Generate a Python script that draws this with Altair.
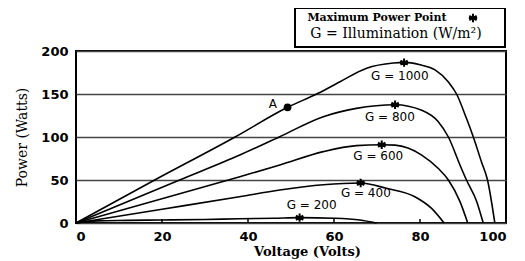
import altair as alt
import pandas as pd

# ---- data ----
series_names = ["G = 1000", "G = 800", "G = 600", "G = 400", "G = 200"]

v_1000 = [0, 18.3, 37, 49.2, 56.3, 61.3, 67.6, 73.8, 76.3, 80, 83.5, 86.6, 88.5, 90.8, 92.4, 94.3, 95.7, 97.4]
p_1000 = [0, 50, 100, 134.5, 150.8, 164, 180, 186, 186.8, 184, 178, 164, 150, 121.7, 100, 71, 50, 0]

v_800 = [0, 24.1, 38.1, 47.4, 57.5, 65.2, 74.2, 80.4, 84.2, 86.6, 89.3, 90.8, 93.2, 94.7]
p_800 = [0, 50, 79, 100.4, 123.6, 133.3, 137.5, 131, 118, 100, 67.4, 50, 24.8, 0]

v_600 = [0, 38.1, 47.4, 57.5, 65.2, 71.1, 74.2, 80.4, 84.2, 86.6, 89.3, 91.1]
p_600 = [0, 53.9, 67.4, 83, 90, 91, 90.5, 79, 63.6, 50, 24.8, 0]

v_400 = [0, 20, 38, 47.4, 57.5, 66.2, 72.2, 78.8, 82.7, 85.6]
p_400 = [0, 16, 30.5, 38.4, 44.5, 46.5, 40.3, 30.6, 17, 0]

v_200 = [0, 5, 12, 20, 30, 38, 46, 52, 60, 66, 69.9]
p_200 = [0, 2.5, 3, 3.5, 4, 5, 5.5, 6.2, 5.5, 3.5, 0]

mpp_v = [76.3, 74.2, 71.1, 66.2, 52]
mpp_p = [186.5, 137.5, 91, 46.5, 6.2]

label_v = [75.3, 73, 70.3, 67.4, 54.8]
label_p = [171, 123.6, 78, 35.3, 21]

point_a_v = [49.2]
point_a_p = [134.5]
point_a_label = ["A"]
point_a_label_v = [45.8]
point_a_label_p = [138]

x_ticks = [0, 20, 40, 60, 80, 100]
x_inner_ticks = [20, 40, 60, 80]
y_ticks = [0, 50, 100, 150, 200]

legend_line1 = "Maximum Power Point"
legend_line2 = "G = Illumination (W/m\u00b2)"
x_title = "Voltage (Volts)"
y_title = "Power (Watts)"

# ---- build tables ----
rows = []
for name, vs, ps in zip(series_names,
                        [v_1000, v_800, v_600, v_400, v_200],
                        [p_1000, p_800, p_600, p_400, p_200]):
    for i, (v, p) in enumerate(zip(vs, ps)):
        rows.append({"series": name, "V": v, "P": p, "i": i})
curves = pd.DataFrame(rows)
mpp = pd.DataFrame({"V": mpp_v, "P": mpp_p, "series": series_names})
labels = pd.DataFrame({"V": label_v, "P": label_p, "text": series_names})
pa = pd.DataFrame({"V": point_a_v, "P": point_a_p})
pa_lab = pd.DataFrame({"V": point_a_label_v, "P": point_a_label_p, "text": point_a_label})
ticks = pd.DataFrame({"V": x_inner_ticks})
one = pd.DataFrame({"a": [1]})

W, H = 430, 172
SANS = "DejaVu Sans"
SERIF = "DejaVu Serif"
STAR = "M0,-1L0,1M-0.87,-0.5L0.87,0.5M-0.87,0.5L0.87,-0.5M-1,0L1,0"

xs = alt.Scale(domain=[0, 100], nice=False, zero=False)
ys = alt.Scale(domain=[0, 200], nice=False, zero=False)

x_axis = alt.Axis(values=x_ticks, title=x_title, grid=False, ticks=False, domain=False,
                  labelFont=SANS, labelFontSize=13, labelFontWeight="bold", labelColor="black",
                  labelPadding=7, titleFont=SERIF, titleFontSize=13, titleFontWeight="bold",
                  titleColor="black", titleX=231, titleY=32, titleBaseline="alphabetic",
                  titleAnchor="middle", titleAlign="center")
y_axis = alt.Axis(values=y_ticks, title=y_title, grid=True, gridColor="#444", gridWidth=1.5,
                  ticks=False, domain=False, labelFont=SANS, labelFontSize=13,
                  labelFontWeight="bold", labelColor="black", labelPadding=8,
                  titleFont=SERIF, titleFontSize=14, titleFontWeight="normal", titleColor="black",
                  titleX=-54, titleY=H / 2, titleBaseline="middle", titleAngle=-90,
                  titleAlign="center")

lines = alt.Chart(curves).mark_line(interpolate="monotone", color="black", strokeWidth=1.6).encode(
    x=alt.X("V:Q", scale=xs, axis=x_axis),
    y=alt.Y("P:Q", scale=ys, axis=y_axis),
    detail="series:N",
    order="i:Q",
)

stars = alt.Chart(mpp).mark_point(shape=STAR, filled=False, color="black", strokeWidth=2,
                                  size=70, opacity=1).encode(
    x=alt.X("V:Q", scale=xs), y=alt.Y("P:Q", scale=ys))

point_a = alt.Chart(pa).mark_point(shape="circle", filled=True, color="black", size=60,
                                   opacity=1).encode(
    x=alt.X("V:Q", scale=xs), y=alt.Y("P:Q", scale=ys))

curve_labels = alt.Chart(labels).mark_text(font=SANS, fontSize=12, color="black",
                                           align="center", baseline="middle").encode(
    x=alt.X("V:Q", scale=xs), y=alt.Y("P:Q", scale=ys), text="text:N")

a_label = alt.Chart(pa_lab).mark_text(font=SANS, fontSize=12, color="black",
                                      align="center", baseline="middle").encode(
    x=alt.X("V:Q", scale=xs), y=alt.Y("P:Q", scale=ys), text="text:N")

inner_ticks = alt.Chart(ticks).mark_rule(color="black", strokeWidth=1.5).encode(
    x=alt.X("V:Q", scale=xs), y=alt.value(H), y2=alt.value(H - 4))

legend_box = alt.Chart(one).mark_rect(fill="white", stroke="black", strokeWidth=2).encode(
    x=alt.value(219), x2=alt.value(429), y=alt.value(-43), y2=alt.value(-4))

legend_t1 = alt.Chart(one).mark_text(text=legend_line1, font=SERIF, fontSize=11,
                                     fontWeight="bold", color="black", align="center",
                                     baseline="middle").encode(
    x=alt.value(301), y=alt.value(-33))

legend_star = alt.Chart(one).mark_point(shape=STAR, filled=False, color="black",
                                        strokeWidth=2, size=70, opacity=1).encode(
    x=alt.value(397), y=alt.value(-33))

legend_t2 = alt.Chart(one).mark_text(text=legend_line2, font=SERIF, fontSize=14,
                                     color="black", align="center",
                                     baseline="middle").encode(
    x=alt.value(320), y=alt.value(-17))

chart = alt.layer(
    lines, inner_ticks, stars, point_a, curve_labels, a_label,
    legend_box, legend_t1, legend_star, legend_t2
).properties(
    width=W, height=H,
    autosize=alt.AutoSizeParams(type="none"),
    padding={"left": 68, "top": 43, "right": 8, "bottom": 38},
    background="white",
).configure_view(stroke="black", strokeWidth=2)

chart.save("out.html", embed_options={"renderer": "svg", "actions": False})
